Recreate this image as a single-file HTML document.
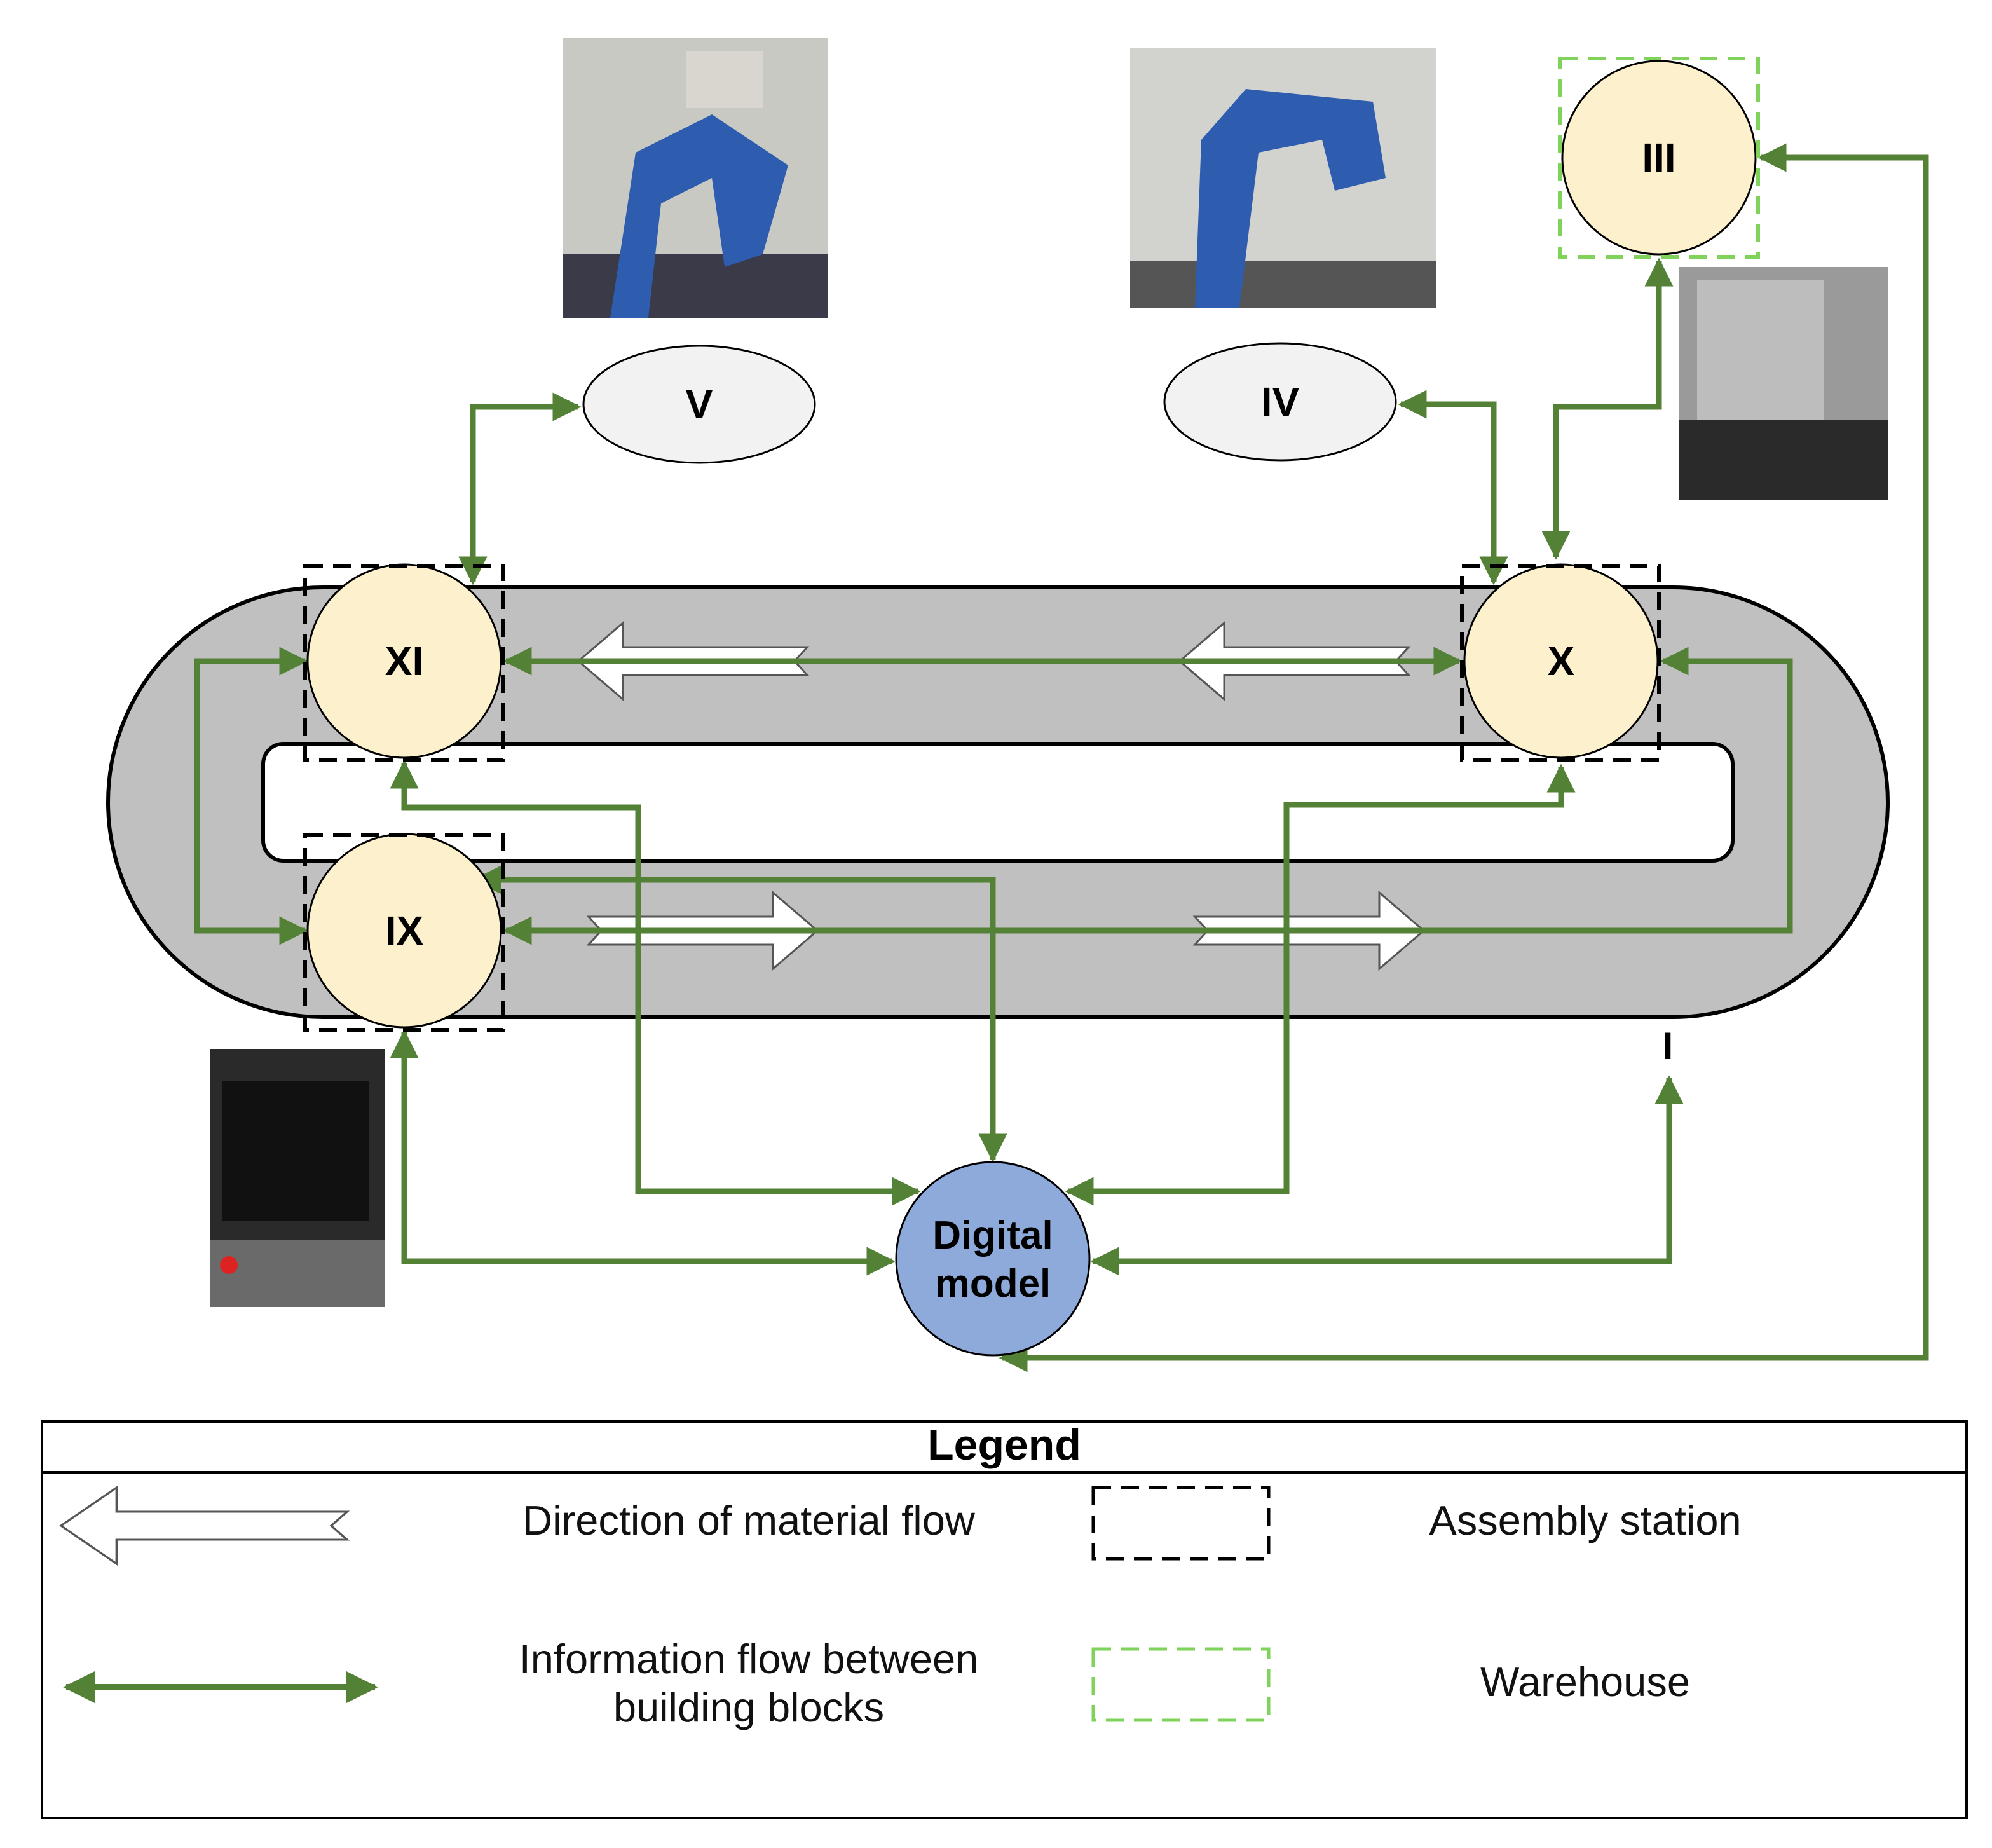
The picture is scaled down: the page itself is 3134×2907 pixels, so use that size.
<!DOCTYPE html>
<html><head><meta charset="utf-8"><style>
html,body{margin:0;padding:0;background:#fff}
svg{display:block}
text{font-family:"Liberation Sans",Arial,sans-serif}
</style></head><body>
<svg width="3134" height="2907" viewBox="0 0 1567 1453.5" xmlns="http://www.w3.org/2000/svg">
<defs>
<marker id="ah" viewBox="0 0 10 10" refX="9" refY="5" markerWidth="5" markerHeight="5" orient="auto-start-reverse">
<path d="M0,0 L10,5 L0,10 z" fill="#538135"/></marker>
<g id="wl"><path d="M0,0 L35,-30 L35,-11 L180,-11 L170,0 L180,11 L35,11 L35,30 Z" fill="#fff" stroke="#555" stroke-width="1.5"/></g>
</defs>
<rect width="1567" height="1453.5" fill="#fff"/>
<!-- photos -->
<rect x="443" y="30" width="208" height="220" fill="#c9c9c4"/>
<rect x="443" y="200" width="208" height="50" fill="#3a3a48"/>
<path d="M480,250 L500,120 L560,90 L620,130 L600,200 L570,210 L560,140 L520,160 L510,250Z" fill="#2e5db0"/>
<rect x="540" y="40" width="60" height="45" fill="#d8d6cf"/>
<rect x="889" y="38" width="241" height="204" fill="#d2d2cf"/>
<rect x="889" y="205" width="241" height="37" fill="#555"/>
<path d="M940,242 L945,110 L980,70 L1080,80 L1090,140 L1050,150 L1040,110 L990,120 L975,242Z" fill="#2e5db0"/>
<rect x="1321" y="210" width="164" height="183" fill="#9a9a9a"/>
<rect x="1321" y="330" width="164" height="63" fill="#2a2a2a"/>
<rect x="1335" y="220" width="100" height="110" fill="#bdbdbd"/>
<rect x="165" y="825" width="138" height="203" fill="#2a2a2a"/>
<rect x="175" y="850" width="115" height="110" fill="#111"/>
<rect x="165" y="975" width="138" height="53" fill="#6a6a6a"/>
<circle cx="180" cy="995" r="7" fill="#d22"/>
<!-- track -->
<rect x="85" y="462" width="1400" height="338" rx="169" fill="#c0c0c0" stroke="#000" stroke-width="3"/>
<rect x="207" y="585" width="1156" height="92" rx="16" fill="#fff" stroke="#000" stroke-width="3"/>
<!-- material flow arrows -->
<use href="#wl" x="455" y="520"/>
<use href="#wl" x="928" y="520"/>
<use href="#wl" transform="translate(643,732) scale(-1,1)"/>
<use href="#wl" transform="translate(1120,732) scale(-1,1)"/>
<!-- green lines -->
<g fill="none" stroke="#538135" stroke-width="4.5" marker-start="url(#ah)" marker-end="url(#ah)">
<path d="M372,458 L372,320 L455,320"/>
<path d="M1102,318 L1175,318 L1175,458"/>
<path d="M1224,438 L1224,320 L1305,320 L1305,205"/>
<path d="M1385,124 L1515,124 L1515,1068 L788,1068"/>
<path d="M398,520 L1148,520"/>
<path d="M240,520 L155,520 L155,732 L240,732"/>
<path d="M1308,520 L1408,520 L1408,732 L398,732"/>
<path d="M318,600 L318,635 L502,635 L502,937 L722,937"/>
<path d="M1228,603 L1228,633 L1012,633 L1012,937 L840,937"/>
<path d="M374,692 L781,692 L781,912"/>
<path d="M318,812 L318,992 L702,992"/>
<path d="M860,992 L1313,992 L1313,848"/>
</g>
<!-- stations -->
<circle cx="318" cy="520" r="76" fill="#fdf0cc" stroke="#000" stroke-width="1.5"/>
<circle cx="1228" cy="520" r="76" fill="#fdf0cc" stroke="#000" stroke-width="1.5"/>
<circle cx="318" cy="732" r="76" fill="#fdf0cc" stroke="#000" stroke-width="1.5"/>
<circle cx="1305" cy="124" r="76" fill="#fdf0cc" stroke="#000" stroke-width="1.5"/>
<g fill="none" stroke="#000" stroke-width="3" stroke-dasharray="14,8">
<rect x="240" y="445" width="156" height="153"/>
<rect x="1150" y="445" width="155" height="153"/>
<rect x="240" y="657" width="156" height="153"/>
</g>
<rect x="1227" y="46" width="156" height="156" fill="none" stroke="#7fd35a" stroke-width="3" stroke-dasharray="14,8"/>
<ellipse cx="550" cy="318" rx="91" ry="46" fill="#f2f2f2" stroke="#000" stroke-width="1.5"/>
<ellipse cx="1007" cy="316" rx="91" ry="46" fill="#f2f2f2" stroke="#000" stroke-width="1.5"/>
<circle cx="781" cy="990" r="76" fill="#8eaadb" stroke="#000" stroke-width="1.5"/>
<g font-weight="bold" font-size="32" text-anchor="middle" fill="#000">
<text x="318" y="531">XI</text>
<text x="1228" y="531">X</text>
<text x="318" y="743">IX</text>
<text x="1305" y="135">III</text>
<text x="550" y="329">V</text>
<text x="1007" y="327">IV</text>
<text x="1312" y="833" font-size="30">I</text>
<text x="781" y="982" font-size="31">Digital</text>
<text x="781" y="1020" font-size="31">model</text>
</g>
<!-- legend -->
<rect x="33" y="1118" width="1514" height="312" fill="#fff" stroke="#000" stroke-width="2"/>
<line x1="33" y1="1158" x2="1547" y2="1158" stroke="#000" stroke-width="2"/>
<text x="790" y="1148" font-size="34" font-weight="bold" text-anchor="middle">Legend</text>
<use href="#wl" transform="translate(48,1200) scale(1.25,1)"/>
<line x1="52" y1="1327" x2="295" y2="1327" stroke="#538135" stroke-width="5" marker-start="url(#ah)" marker-end="url(#ah)"/>
<rect x="860" y="1170" width="138" height="56" fill="none" stroke="#000" stroke-width="2.5" stroke-dasharray="14,8"/>
<rect x="860" y="1297" width="138" height="56" fill="none" stroke="#7fd35a" stroke-width="2.5" stroke-dasharray="14,8"/>
<g font-size="32.5" text-anchor="middle" fill="#111">
<text x="589" y="1207">Direction of material flow</text>
<text x="589" y="1316">Information flow between</text>
<text x="589" y="1354">building blocks</text>
<text x="1247" y="1207">Assembly station</text>
<text x="1247" y="1334">Warehouse</text>
</g>
</svg>
</body></html>
